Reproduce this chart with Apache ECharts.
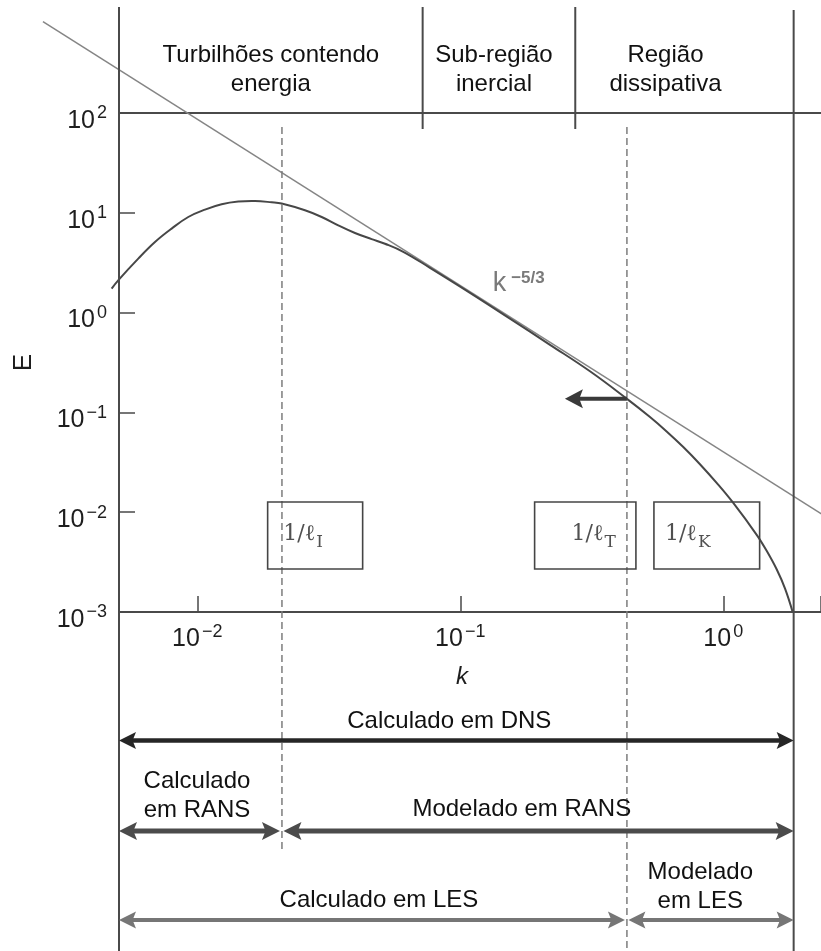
<!DOCTYPE html>
<html>
<head>
<meta charset="utf-8">
<script src="https://cdn.jsdelivr.net/npm/echarts@6/dist/echarts.min.js"></script>
<style>
  html, body { margin: 0; padding: 0; background: #ffffff; }
  #chart { width: 821px; height: 951px; }
</style>
</head>
<body>
<div id="chart"></div>
<script>
// ---- Energy spectrum E(k) ----
const spectrumK = [0.004725, 0.005005, 0.005966, 0.006906, 0.007991, 0.009242, 0.01070, 0.01238,
  0.01432, 0.01657, 0.01918, 0.02094, 0.02567, 0.02972, 0.03436, 0.03978, 0.04603, 0.05172,
  0.06072, 0.07671, 0.1089, 0.1545, 0.2194, 0.3113, 0.4292, 0.5265, 0.6091, 0.7047, 0.8155,
  0.9438, 1.0915, 1.340, 1.4622, 1.5959, 1.7163, 1.8357];
const spectrumE = [1.74, 2.107, 3.477, 5.097, 6.946, 9.077, 10.77, 12.17,
  12.95, 13.13, 12.74, 12.37, 10.59, 9.08, 7.49, 6.275, 5.45, 4.90,
  4.07, 2.81, 1.579, 0.8707, 0.4757, 0.2581, 0.1375, 0.08991, 0.06452, 0.04499, 0.03027,
  0.01966, 0.01237, 0.005935, 0.004103, 0.002679, 0.001724, 0.001];

// Kolmogorov k^(-5/3) reference line (end points)
const slopeK = [0.00259, 2.6];
const slopeE = [825, 0.0082];

// Wavenumber range of the grid and characteristic scales
const kGrid = [0.00504, 1.852];     // smallest / largest resolved wavenumber
const kAxis = [0.00504, 2.353];     // drawn extent of the k axis
const eAxis = [0.001, 100];
const kIntegral = 0.02099;          // 1/ℓ_I
const kTaylor = 0.4302;             // 1/ℓ_T
const kKolmogorov = 0.866;          // 1/ℓ_K

// Spectral regions
const regionEdges = [0.00504, 0.07194, 0.2737, 1.852];
const regionNames = ['Turbilhões contendo\nenergia', 'Sub-região\ninercial', 'Região\ndissipativa'];

// Tick labels (powers of ten)
const xTickExps = [-2, -1, 0];
const yTickExps = [-3, -2, -1, 0, 1, 2];

// Range bars below the axis
const dnsLabels = ['Calculado em DNS'];
const ransLabels = ['Calculado\nem RANS', 'Modelado em RANS'];
const lesLabels = ['Calculado em LES', 'Modelado\nem LES'];

// Scale markers
const scaleNames = ['1/ℓ', '1/ℓ', '1/ℓ'];
const scaleSubs = ['I', 'T', 'K'];
const slopeText = ['k', '\u22125/3'];

// ---- layout & style ----
const SANS = '"Liberation Sans", Arial, Helvetica, sans-serif';
const SERIF = '"DejaVu Serif", "Liberation Serif", serif';
const C = {
  frame: '#4a4a4a', curve: '#474747', slope: '#858585', dash: '#7d7d7d', text: '#111111',
  tick: '#1e1e1e', dns: '#262626', rans: '#4b4b4b', les: '#767676', box: '#454545',
  boxText: '#505050', slopeLabel: '#7a7a7a', shortArrow: '#3a3a3a'
};
const L = {
  frameTop: 7, rightTop: 10, bottom: 951, dividerBottom: 129, dashTop: 127, dashIBottom: 850,
  textDy: 1.5,
  headerY: 68, headerShift: [0, -5, -19],
  dnsY: 740.5, ransY: 831, lesY: 920,
  dnsTextY: 720, ransTextY: [794.5, 808], lesTextY: [899, 885],
  dnsShift: [-7], ransShift: [-3.5, -16], lesShift: [6, -10],
  boxTop: 502, boxBottom: 569,
  boxLeft: [-14.3, -92.3, -52.9], boxWidth: [95, 101.3, 105.7], boxTextDx: [15.6, 37, 11],
  slopeLabelAt: [0.1328, 1.957],
  shortArrowLen: 62
};

function powLabel(v) {
  const e = Math.round(Math.log10(v));
  if (Math.abs(Math.log10(v) - e) > 1e-6) return '';
  return '{b|10}{s|' + (e < 0 ? '\u2212' + (-e) : String(e)) + '}';
}
const powRich = {
  b: { fontSize: 25, fontFamily: SANS, color: C.tick, lineHeight: 29, verticalAlign: 'bottom' },
  s: { fontSize: 18, fontFamily: SANS, color: C.tick, lineHeight: 18, verticalAlign: 'top', padding: [0, 0, 0, 2] }
};

// value of the spectrum at a given k (log-log interpolation of the samples)
function spectrumAt(k) {
  for (let i = 1; i < spectrumK.length; i++) {
    if (spectrumK[i] >= k) {
      const t = (Math.log(k) - Math.log(spectrumK[i - 1])) / (Math.log(spectrumK[i]) - Math.log(spectrumK[i - 1]));
      return Math.exp(Math.log(spectrumE[i - 1]) + t * (Math.log(spectrumE[i]) - Math.log(spectrumE[i - 1])));
    }
  }
  return spectrumE[spectrumE.length - 1];
}

// polyline through (k, E) pairs, not clipped to the plotting area
function curveRenderer(ks, es, stroke, width, smooth) {
  return function (params, api) {
    return {
      type: 'polyline',
      shape: { points: ks.map((k, i) => api.coord([k, es[i]])), smooth: smooth },
      style: { stroke: stroke, lineWidth: width, fill: null, lineJoin: 'round' }
    };
  };
}

function renderOverlay(params, api) {
  const X = k => api.coord([k, 1])[0];
  const Y = e => api.coord([1, e])[1];
  const kids = [];
  const seg = (x1, y1, x2, y2, stroke, w, dash) => kids.push({
    type: 'line', shape: { x1, y1, x2, y2 }, style: { stroke, lineWidth: w, lineDash: dash || null }
  });
  const head = (tx, y, dir, len, h, fill) => kids.push({
    type: 'polygon',
    shape: { points: [[tx, y], [tx + dir * len, y - h / 2], [tx + dir * len * 0.8, y], [tx + dir * len, y + h / 2]] },
    style: { fill, stroke: null }
  });
  // double-headed arrow between two tips
  const arrow = (xa, xb, y, color, w, len, h) => {
    seg(xa + len * 0.7, y, xb - len * 0.7, y, color, w);
    head(xa, y, 1, len, h, color);
    head(xb, y, -1, len, h, color);
  };
  const text = (str, x, y, extra) => kids.push({
    type: 'text', x, y: y + L.textDy,
    style: Object.assign({ text: str, fill: C.text, fontSize: 24, fontFamily: SANS, align: 'center',
      verticalAlign: 'middle', lineHeight: 29 }, extra || {})
  });

  const x0 = X(kGrid[0]), x1 = X(kGrid[1]);
  const xI = X(kIntegral), xT = X(kTaylor), xK = X(kKolmogorov);

  // frame verticals and region dividers
  seg(x0, L.frameTop, x0, L.bottom, C.frame, 2);
  seg(x1, L.rightTop, x1, L.bottom, C.frame, 2);
  for (let i = 1; i < regionEdges.length - 1; i++) {
    const xr = X(regionEdges[i]);
    seg(xr, L.frameTop, xr, L.dividerBottom, C.frame, 2);
  }
  // cut-off wavenumbers
  seg(xI, L.dashTop, xI, L.dashIBottom, C.dash, 1.5, [7, 4]);
  seg(xT, L.dashTop, xT, L.bottom, C.dash, 1.5, [7, 4]);

  // region names
  regionNames.forEach((name, i) => {
    const xc = (X(regionEdges[i]) + X(regionEdges[i + 1])) / 2 + L.headerShift[i];
    text(name, xc, L.headerY);
  });

  // scale boxes
  [xI, xT, xK].forEach((xc, i) => {
    const left = xc + L.boxLeft[i];
    kids.push({
      type: 'rect',
      shape: { x: left, y: L.boxTop, width: L.boxWidth[i], height: L.boxBottom - L.boxTop },
      style: { fill: 'none', stroke: C.box, lineWidth: 1.6 }
    });
    kids.push({
      type: 'text', x: left + L.boxTextDx[i], y: (L.boxTop + L.boxBottom) / 2 + 1.5,
      style: {
        text: '{m|' + scaleNames[i] + '}{s|' + scaleSubs[i] + '}',
        align: 'left', verticalAlign: 'middle',
        rich: {
          m: { fontSize: 22, fontFamily: SERIF, fill: C.boxText, lineHeight: 24, verticalAlign: 'top' },
          s: { fontSize: 17, fontFamily: SERIF, fill: C.boxText, padding: [11, 0, 0, 1], verticalAlign: 'bottom' }
        }
      }
    });
  });

  // k^(-5/3) label
  kids.push({
    type: 'text', x: X(L.slopeLabelAt[0]), y: Y(L.slopeLabelAt[1]),
    style: {
      text: '{k|' + slopeText[0] + '}{p|' + slopeText[1] + '}',
      align: 'left', verticalAlign: 'middle',
      rich: {
        k: { fontSize: 27, fontFamily: SANS, fill: C.slopeLabel, lineHeight: 27, verticalAlign: 'bottom' },
        p: { fontSize: 17, fontFamily: SANS, fontWeight: 'bold', fill: C.slopeLabel, lineHeight: 17,
             verticalAlign: 'top', padding: [0, 0, 0, 5] }
      }
    }
  });

  // shift of the cut-off towards lower k
  const ya = Y(spectrumAt(kTaylor));
  seg(xT, ya, xT - L.shortArrowLen + 14, ya, C.shortArrow, 4);
  head(xT - L.shortArrowLen, ya, 1, 18, 19, C.shortArrow);

  // DNS row
  arrow(x0, x1, L.dnsY, C.dns, 4.3, 17, 17);
  text(dnsLabels[0], (x0 + x1) / 2 + L.dnsShift[0], L.dnsTextY);

  // RANS row
  arrow(x0, xI - 2, L.ransY, C.rans, 5, 18, 18);
  arrow(xI + 1.5, x1, L.ransY, C.rans, 5, 18, 18);
  text(ransLabels[0], (x0 + xI) / 2 + L.ransShift[0], L.ransTextY[0]);
  text(ransLabels[1], (xI + x1) / 2 + L.ransShift[1], L.ransTextY[1]);

  // LES row
  arrow(x0, xT - 2, L.lesY, C.les, 4, 17, 17);
  arrow(xT + 1.5, x1, L.lesY, C.les, 4, 17, 17);
  text(lesLabels[0], (x0 + xT) / 2 + L.lesShift[0], L.lesTextY[0]);
  text(lesLabels[1], (xT + x1) / 2 + L.lesShift[1], L.lesTextY[1]);

  return { type: 'group', children: kids };
}

const chart = echarts.init(document.getElementById('chart'), null, { renderer: 'canvas' });
chart.setOption({
  animation: false,
  backgroundColor: '#ffffff',
  grid: { left: 119, right: 0, top: 113, bottom: 339, containLabel: false, outerBoundsMode: 'none' },
  xAxis: [
    {
      type: 'log', logBase: 10, min: kAxis[0], max: kAxis[1], position: 'bottom',
      axisLine: { show: true, lineStyle: { color: C.frame, width: 2 } },
      axisTick: { show: true, inside: true, length: 16, lineStyle: { color: C.frame, width: 1.5 } },
      minorTick: { show: false }, splitLine: { show: false },
      axisLabel: {
        margin: 11,
        formatter: v => xTickExps.includes(Math.round(Math.log10(v))) ? powLabel(v) : '',
        rich: powRich
      },
      name: 'k', nameLocation: 'middle', nameGap: 53,
      nameTextStyle: { fontSize: 24, fontStyle: 'italic', fontFamily: SANS, color: C.tick, padding: [0, 16, 0, 0] }
    },
    {
      type: 'log', logBase: 10, min: kAxis[0], max: kAxis[1], position: 'top',
      axisLine: { show: true, lineStyle: { color: C.frame, width: 2 } },
      axisTick: { show: false }, axisLabel: { show: false }, splitLine: { show: false }
    }
  ],
  yAxis: {
    type: 'log', logBase: 10, min: eAxis[0], max: eAxis[1],
    axisLine: { show: true, lineStyle: { color: C.frame, width: 2 } },
    axisTick: { show: true, inside: true, length: 16, lineStyle: { color: C.frame, width: 1.5 } },
    minorTick: { show: false }, splitLine: { show: false },
    axisLabel: {
      margin: 12, padding: [12, 0, 0, 0],
      formatter: v => yTickExps.includes(Math.round(Math.log10(v))) ? powLabel(v) : '',
      rich: powRich
    },
    name: 'E', nameLocation: 'middle', nameGap: 82,
    nameTextStyle: { fontSize: 26, fontFamily: SANS, color: C.tick }
  },
  series: [
    {
      name: 'E(k)', type: 'custom', xAxisIndex: 0, yAxisIndex: 0,
      data: [[spectrumK[0], spectrumE[0]]], clip: false, silent: true, z: 4,
      renderItem: curveRenderer(spectrumK, spectrumE, C.curve, 2, 0.4)
    },
    {
      name: 'k^-5/3', type: 'custom', xAxisIndex: 0, yAxisIndex: 0,
      data: [[slopeK[0], slopeE[0]]], clip: false, silent: true, z: 3,
      renderItem: curveRenderer(slopeK, slopeE, C.slope, 1.5, 0)
    },
    {
      name: 'annotations', type: 'custom', xAxisIndex: 0, yAxisIndex: 0,
      data: [[1, 1]], clip: false, silent: true, z: 5,
      renderItem: renderOverlay
    }
  ]
});
</script>
</body>
</html>
